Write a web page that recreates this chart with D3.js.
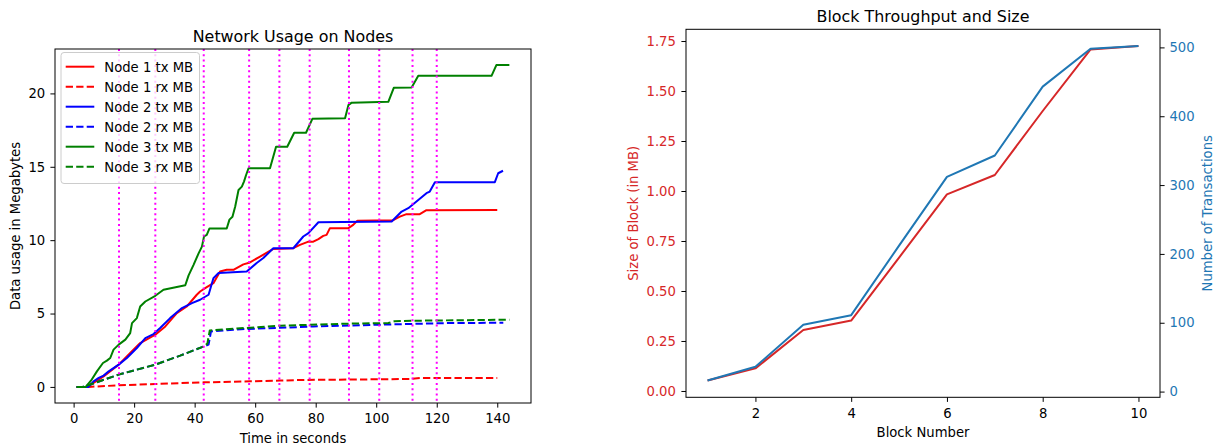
<!DOCTYPE html>
<html><head><meta charset="utf-8">
<script src="https://cdn.jsdelivr.net/npm/d3@7"></script>
<style>body{margin:0;background:#fff} svg{display:block} text{font-family:"DejaVu Sans",sans-serif}</style>
</head><body><svg id="c" width="1217" height="447"></svg>
<script>
// ---------- Left chart data: [time (s), MB] ----------
const node1Tx = [[1,0],[4.4,0],[6.6,0.27],[9.9,0.72],[14.9,1.52],[18.7,2.31],[22,2.99],[27,3.56],[30.3,4.12],[34.1,5.03],[37.4,5.48],[40.7,6.28],[41.8,6.5],[44,6.8],[46.2,7.07],[48.4,7.86],[50.6,7.98],[52.8,7.98],[56.1,8.35],[58,8.46],[61.6,8.88],[66,9.4],[72.6,9.45],[74.8,9.68],[77.6,9.9],[79.2,9.9],[80.9,10.07],[82.5,10.29],[83.6,10.36],[84.7,10.82],[90.8,10.82],[92.4,11.04],[93.8,11.33],[105.6,11.36],[107.8,11.6],[110,11.77],[114.4,11.77],[116.6,12.04],[140,12.06]];
const node1Rx = [[1,0],[5,0],[15,0.11],[27,0.2],[43,0.31],[58.3,0.38],[68.2,0.43],[74.8,0.47],[90.2,0.5],[111.1,0.54],[114.4,0.6],[140,0.61]];
const node2Tx = [[1,0],[4.9,0],[6.6,0.38],[8.3,0.61],[9.9,0.77],[11.6,1.06],[14.9,1.52],[17.6,1.97],[20.9,2.65],[23.7,3.33],[26.4,3.6],[28.6,4.01],[31.9,4.69],[35.8,5.37],[39.1,5.71],[41.8,5.94],[44.6,6.28],[46.2,7.41],[47.9,7.76],[57.2,7.86],[60.5,8.44],[62.7,8.78],[66,9.45],[72.6,9.45],[75.9,10.25],[77.6,10.48],[80.9,11.22],[105.1,11.27],[108.4,11.95],[110.6,12.18],[113.3,12.63],[116.6,13.2],[117.7,13.31],[119.4,13.95],[139.2,13.95],[140.3,14.56],[141.9,14.73]];
const node2Rx = [[1,0],[3,0],[5.5,0.16],[14.9,0.84],[27,1.52],[35.2,2.13],[43,2.76],[44.6,2.88],[45.4,3.78],[52.8,3.9],[57.2,3.95],[74.8,4.08],[79.2,4.12],[101.2,4.24],[123.2,4.35],[142,4.37]];
const node3Tx = [[1,0],[4,0],[6,0.5],[7.7,1.06],[9.7,1.63],[11,1.79],[12.1,1.97],[13.2,2.54],[14.9,2.88],[17.1,3.22],[18.7,3.67],[19.3,4.35],[20.9,4.69],[22,5.48],[23.7,5.82],[27,6.21],[29.7,6.62],[36.9,6.93],[38,7.6],[39.6,8.3],[41.3,9.1],[42.4,9.56],[43.1,10.25],[44,10.36],[44.9,10.8],[50.6,10.8],[51.5,11.4],[52.5,11.6],[53.4,12.29],[54.5,13.42],[55.6,13.65],[56.3,13.99],[57,14.44],[57.8,14.9],[64.9,14.9],[66.9,16.37],[70.6,16.37],[72.9,17.32],[76.8,17.32],[78.9,18.27],[89.7,18.3],[90.8,19.2],[91.9,19.37],[104,19.43],[105.8,20.38],[111.7,20.41],[113.9,21.2],[138.1,21.2],[139.7,21.93],[144,21.93]];
const node3Rx = [[1,0],[3,0],[5.5,0.16],[14.9,0.84],[27,1.52],[35.2,2.13],[43,2.76],[44.2,2.95],[45,3.85],[57.2,4.02],[68.2,4.17],[90.2,4.31],[104,4.35],[106,4.47],[112.2,4.51],[144,4.58]];
const seriesNames = ["Node 1 tx MB","Node 1 rx MB","Node 2 tx MB","Node 2 rx MB","Node 3 tx MB","Node 3 rx MB"];
const markerTimes = [15,27,43,58,68,78,91,101,112,120];
const timeTicks = [0,20,40,60,80,100,120,140];
const usageTicks = [0,5,10,15,20];

// ---------- Right chart data ----------
const blocks = [1,2,3,4,5,6,7,8,9,10];
const blockSizeMB = [0.052,0.113,0.305,0.352,0.667,0.983,1.08,1.40,1.708,1.725];
const blockTx = [16,36,97,111,212,312,343,443,498,502];
const blockTicks = [2,4,6,8,10];
const sizeTicks = [0,0.25,0.5,0.75,1.0,1.25,1.5,1.75];
const txTicks = [0,100,200,300,400,500];

const svg = d3.select("#c");
const FS = 13.2, TFS = 15.9, LW = 2;
function pad(ext){const r=ext[1]-ext[0];return [ext[0]-0.05*r, ext[1]+0.05*r];}

// ================= LEFT CHART =================
const L = {l:55, r:531, t:49, b:403};
const allSeries = [node1Tx,node1Rx,node2Tx,node2Rx,node3Tx,node3Rx];
const styles = [
  {c:"#ff0000",dash:null},{c:"#ff0000",dash:"7.3,3.2"},
  {c:"#0000ff",dash:null},{c:"#0000ff",dash:"7.3,3.2"},
  {c:"#008000",dash:null},{c:"#008000",dash:"7.3,3.2"}];
const allPts = allSeries.flat();
const xL = d3.scaleLinear().domain(pad(d3.extent(allPts,d=>d[0]))).range([L.l,L.r]);
const yL = d3.scaleLinear().domain(pad(d3.extent(allPts,d=>d[1]))).range([L.b,L.t]);

const gL = svg.append("g");
const clipL = svg.append("clipPath").attr("id","clipL").append("rect")
  .attr("x",L.l).attr("y",L.t).attr("width",L.r-L.l).attr("height",L.b-L.t);
const plotL = gL.append("g").attr("clip-path","url(#clipL)");
const line = d3.line().x(d=>xL(d[0])).y(d=>yL(d[1]));
allSeries.forEach((s,i)=>{
  plotL.append("path").datum(s).attr("d",line).attr("fill","none")
    .attr("stroke",styles[i].c).attr("stroke-width",LW)
    .attr("stroke-dasharray",styles[i].dash).attr("stroke-linejoin","round");
});
plotL.selectAll("line.vm").data(markerTimes).join("line").attr("class","vm")
  .attr("x1",d=>xL(d)).attr("x2",d=>xL(d)).attr("y1",L.t).attr("y2",L.b)
  .attr("stroke","#ff00ff").attr("stroke-width",2).attr("stroke-dasharray","2,3.3");

function styleAxis(g,color){
  g.select(".domain").remove();
  g.selectAll(".tick line").attr("stroke","#000").attr("stroke-width",1);
  g.selectAll(".tick text").attr("font-size",FS).attr("fill",color||"#000").attr("font-family","DejaVu Sans");
}
gL.append("g").attr("transform",`translate(0,${L.b})`)
  .call(d3.axisBottom(xL).tickValues(timeTicks).tickSize(4.6).tickPadding(6.3).tickFormat(d3.format("d")))
  .call(g=>styleAxis(g));
gL.append("g").attr("transform",`translate(${L.l},0)`)
  .call(d3.axisLeft(yL).tickValues(usageTicks).tickSize(4.6).tickPadding(5.2).tickFormat(d3.format("d")))
  .call(g=>styleAxis(g));
gL.append("rect").attr("x",L.l).attr("y",L.t).attr("width",L.r-L.l).attr("height",L.b-L.t)
  .attr("fill","none").attr("stroke","#000").attr("stroke-width",1);
gL.append("text").attr("x",(L.l+L.r)/2).attr("y",41.5).attr("text-anchor","middle")
  .attr("font-size",TFS).text("Network Usage on Nodes");
gL.append("text").attr("x",(L.l+L.r)/2).attr("y",442.5).attr("text-anchor","middle")
  .attr("font-size",FS).text("Time in seconds");
gL.append("text").attr("transform",`translate(20,${(L.t+L.b)/2}) rotate(-90)`).attr("text-anchor","middle")
  .attr("font-size",FS).text("Data usage in Megabytes");

// legend
const lg = gL.append("g");
lg.append("rect").attr("x",61).attr("y",52.5).attr("width",138.5).attr("height",131).attr("rx",3)
  .attr("fill","#fff").attr("fill-opacity",0.8).attr("stroke","#cccccc").attr("stroke-width",1);
seriesNames.forEach((n,i)=>{
  const y = 66.7 + i*20;
  lg.append("line").attr("x1",65.7).attr("x2",94.3).attr("y1",y).attr("y2",y)
    .attr("stroke",styles[i].c).attr("stroke-width",LW).attr("stroke-dasharray",styles[i].dash);
  lg.append("text").attr("x",104.3).attr("y",y+4.8).attr("font-size",FS).text(n);
});

// ================= RIGHT CHART =================
const R = {l:686, r:1160, t:29.3, b:397.3};
const RED = "#d62728", BLUE = "#1f77b4";
const xR = d3.scaleLinear().domain(pad(d3.extent(blocks))).range([R.l,R.r]);
const yS = d3.scaleLinear().domain(pad(d3.extent(blockSizeMB))).range([R.b,R.t]);
const yT = d3.scaleLinear().domain(pad(d3.extent(blockTx))).range([R.b,R.t]);
const gR = svg.append("g");
gR.append("path").datum(blocks.map((b,i)=>[b,blockSizeMB[i]]))
  .attr("d",d3.line().x(d=>xR(d[0])).y(d=>yS(d[1])))
  .attr("fill","none").attr("stroke",RED).attr("stroke-width",LW).attr("stroke-linejoin","round");
gR.append("path").datum(blocks.map((b,i)=>[b,blockTx[i]]))
  .attr("d",d3.line().x(d=>xR(d[0])).y(d=>yT(d[1])))
  .attr("fill","none").attr("stroke",BLUE).attr("stroke-width",LW).attr("stroke-linejoin","round");
gR.append("g").attr("transform",`translate(0,${R.b})`)
  .call(d3.axisBottom(xR).tickValues(blockTicks).tickSize(4.6).tickPadding(6.8).tickFormat(d3.format("d")))
  .call(g=>styleAxis(g));
gR.append("g").attr("transform",`translate(${R.l},0)`)
  .call(d3.axisLeft(yS).tickValues(sizeTicks).tickSize(4.6).tickPadding(5.5).tickFormat(d3.format(".2f")))
  .call(g=>styleAxis(g,RED));
gR.append("g").attr("transform",`translate(${R.r},0)`)
  .call(d3.axisRight(yT).tickValues(txTicks).tickSize(4.6).tickPadding(4.8).tickFormat(d3.format("d")))
  .call(g=>styleAxis(g,BLUE));
gR.append("rect").attr("x",R.l).attr("y",R.t).attr("width",R.r-R.l).attr("height",R.b-R.t)
  .attr("fill","none").attr("stroke","#000").attr("stroke-width",1);
gR.append("text").attr("x",(R.l+R.r)/2).attr("y",22).attr("text-anchor","middle")
  .attr("font-size",TFS).text("Block Throughput and Size");
gR.append("text").attr("x",(R.l+R.r)/2).attr("y",436.7).attr("text-anchor","middle")
  .attr("font-size",FS).text("Block Number");
gR.append("text").attr("transform",`translate(638.4,${(R.t+R.b)/2}) rotate(-90)`).attr("text-anchor","middle")
  .attr("font-size",FS).attr("fill",RED).text("Size of Block (in MB)");
gR.append("text").attr("transform",`translate(1211.5,${(R.t+R.b)/2}) rotate(-90)`).attr("text-anchor","middle")
  .attr("font-size",FS).attr("fill",BLUE).text("Number of Transactions");
</script></body></html>
